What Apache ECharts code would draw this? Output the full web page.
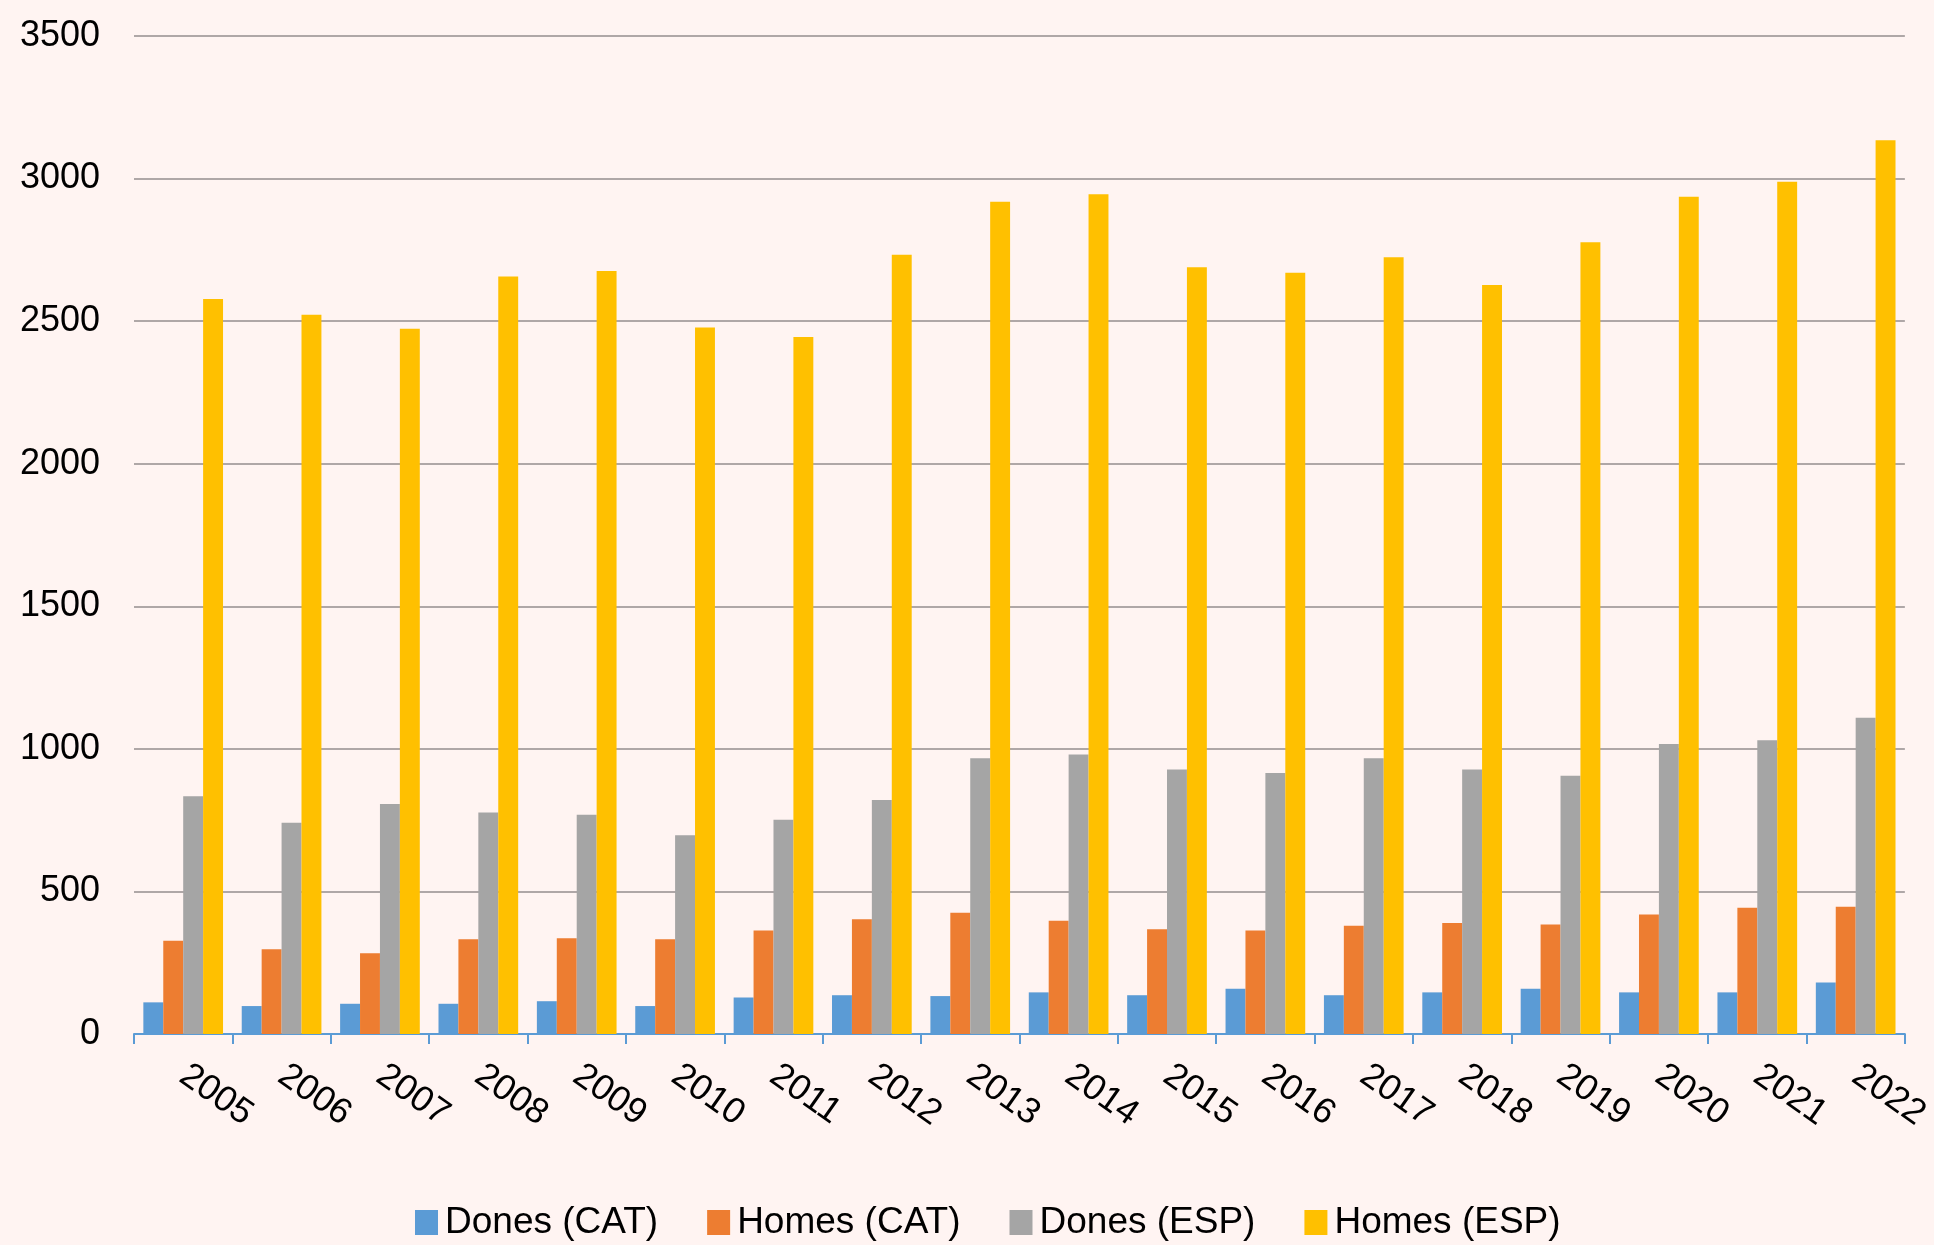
<!DOCTYPE html>
<html>
<head>
<meta charset="utf-8">
<title>Dones i homes</title>
<script src="https://cdn.jsdelivr.net/npm/echarts@6/dist/echarts.min.js"></script>
<style>
    html, body { margin: 0; padding: 0; background: #FFF4F2; }
    #chart { width: 1934px; height: 1245px; }
</style>
</head>
<body>
<div id="chart"></div>
<script>
// anys
const years = ['2005', '2006', '2007', '2008', '2009', '2010', '2011', '2012', '2013',
    '2014', '2015', '2016', '2017', '2018', '2019', '2020', '2021', '2022'];

// valors llegits del gràfic
const donesCat = [111, 98, 106, 106, 115, 98, 128, 136, 133, 146, 136, 159, 136, 146, 159, 146, 146, 181];
const homesCat = [327, 297, 283, 332, 336, 332, 363, 402, 425, 397, 367, 363, 380, 389, 384, 419, 443, 446];
const donesEsp = [834, 741, 807, 777, 769, 697, 751, 821, 967, 980, 928, 915, 967, 928, 906, 1017, 1030, 1109];
const homesEsp = [2578, 2522, 2473, 2657, 2676, 2478, 2444, 2733, 2919, 2945, 2689, 2670, 2724, 2627, 2777, 2936, 2989, 3134];

const seriesNames = ['Dones (CAT)', 'Homes (CAT)', 'Dones (ESP)', 'Homes (ESP)'];
const colors = ['#5B9BD5', '#ED7D31', '#A5A5A5', '#FFC000'];

const font = 'Liberation Sans, Arial, sans-serif';

let myChart = echarts.init(document.getElementById('chart'));

myChart.setOption({
    backgroundColor: '#FFF4F2',
    color: colors,
    animation: false,
    legend: {
        left: 410,
        top: 1199,
        itemWidth: 23,
        itemHeight: 25,
        itemGap: 49,
        icon: 'rect',
        textStyle: {
            fontFamily: font,
            fontSize: 37,
            color: '#000',
            padding: [0, 0, 0, 2]
        },
        data: seriesNames
    },
    grid: {
        left: 134,
        right: 27,
        top: 36,
        bottom: 211,
        containLabel: false
    },
    xAxis: {
        type: 'category',
        data: years,
        axisLine: {
            lineStyle: {color: '#5B9BD5', width: 2}
        },
        axisTick: {
            show: true,
            length: 10,
            lineStyle: {color: '#5B9BD5', width: 2}
        },
        axisLabel: {
            rotate: -35,
            margin: 38,
            fontFamily: font,
            fontSize: 36,
            color: '#000'
        }
    },
    yAxis: {
        type: 'value',
        min: 0,
        max: 3500,
        interval: 500,
        axisLine: {show: false},
        axisTick: {show: false},
        axisLabel: {
            margin: 34,
            fontFamily: font,
            fontSize: 36,
            color: '#000',
            formatter: v => String(v)
        },
        splitLine: {
            lineStyle: {color: '#958E8E', width: 1.5}
        }
    },
    series: [
        {name: seriesNames[0], type: 'bar', data: donesCat, barGap: 0, barCategoryGap: '19%'},
        {name: seriesNames[1], type: 'bar', data: homesCat, barGap: 0, barCategoryGap: '19%'},
        {name: seriesNames[2], type: 'bar', data: donesEsp, barGap: 0, barCategoryGap: '19%'},
        {name: seriesNames[3], type: 'bar', data: homesEsp, barGap: 0, barCategoryGap: '19%'}
    ]
});
</script>
</body>
</html>
